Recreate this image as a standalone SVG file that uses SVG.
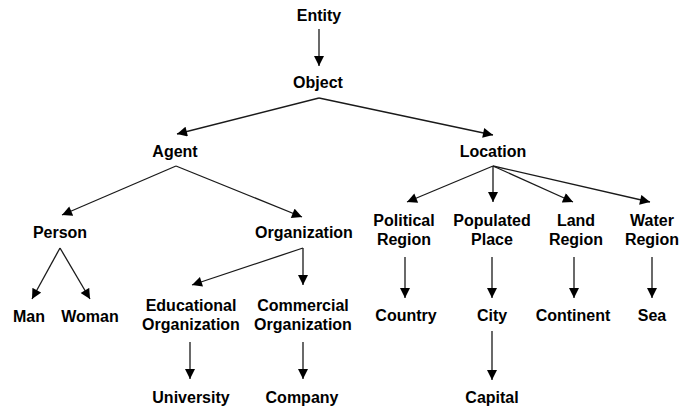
<svg xmlns="http://www.w3.org/2000/svg" width="680" height="408" viewBox="0 0 680 408">
<defs>
<style>
text{font-family:"Liberation Sans",Arial,sans-serif;font-weight:bold;font-size:16px;fill:#000;text-anchor:middle}
.c line{stroke:#1a1a1a;stroke-width:1.3;fill:none;marker-end:url(#ah)}
</style>
<marker id="ah" viewBox="0 0 10 10" refX="10" refY="5" markerUnits="userSpaceOnUse" markerWidth="11" markerHeight="10" orient="auto">
<path d="M0,0 L10,5 L0,10 z" fill="#000"/>
</marker>
</defs>
<rect width="680" height="408" fill="#fff"/>
<g class="c" id="connectors">
<line x1="319" y1="29" x2="319" y2="66"/>
<line x1="319" y1="98" x2="177" y2="134"/>
<line x1="319" y1="98" x2="493" y2="135"/>
<line x1="176" y1="166" x2="62" y2="215"/>
<line x1="176" y1="166" x2="302" y2="217"/>
<line x1="493" y1="166" x2="407" y2="202"/>
<line x1="493" y1="166" x2="493" y2="202"/>
<line x1="493" y1="166" x2="573" y2="202"/>
<line x1="493" y1="166" x2="650" y2="202"/>
<line x1="60" y1="248" x2="32" y2="299"/>
<line x1="60" y1="248" x2="90" y2="299"/>
<line x1="303" y1="248" x2="192" y2="285"/>
<line x1="303" y1="248" x2="303" y2="285"/>
<line x1="190" y1="342" x2="190" y2="379"/>
<line x1="303" y1="342" x2="303" y2="379"/>
<line x1="405" y1="257" x2="405" y2="298"/>
<line x1="492" y1="257" x2="492" y2="298"/>
<line x1="574" y1="257" x2="574" y2="298"/>
<line x1="652" y1="257" x2="652" y2="298"/>
<line x1="492" y1="331" x2="492" y2="380"/>
</g>
<g id="entity"><text x="319" y="21">Entity</text></g>
<g id="object"><text x="318" y="88">Object</text></g>
<g id="agent"><text x="175" y="157">Agent</text></g>
<g id="location"><text x="493" y="157">Location</text></g>
<g id="person"><text x="60" y="238">Person</text></g>
<g id="organization"><text x="304" y="238">Organization</text></g>
<g id="political-region"><text x="404" y="226">Political</text><text x="404" y="245">Region</text></g>
<g id="populated-place"><text x="492" y="226">Populated</text><text x="492" y="245">Place</text></g>
<g id="land-region"><text x="576" y="226">Land</text><text x="576" y="245">Region</text></g>
<g id="water-region"><text x="652" y="226">Water</text><text x="652" y="245">Region</text></g>
<g id="man"><text x="29" y="322">Man</text></g>
<g id="woman"><text x="90" y="322">Woman</text></g>
<g id="educational-organization"><text x="191" y="311">Educational</text><text x="191" y="330">Organization</text></g>
<g id="commercial-organization"><text x="303" y="311">Commercial</text><text x="303" y="330">Organization</text></g>
<g id="country"><text x="406" y="321">Country</text></g>
<g id="city"><text x="492" y="321">City</text></g>
<g id="continent"><text x="573" y="321">Continent</text></g>
<g id="sea"><text x="652" y="321">Sea</text></g>
<g id="university"><text x="191" y="403">University</text></g>
<g id="company"><text x="302" y="403">Company</text></g>
<g id="capital"><text x="492" y="403">Capital</text></g>
</svg>
